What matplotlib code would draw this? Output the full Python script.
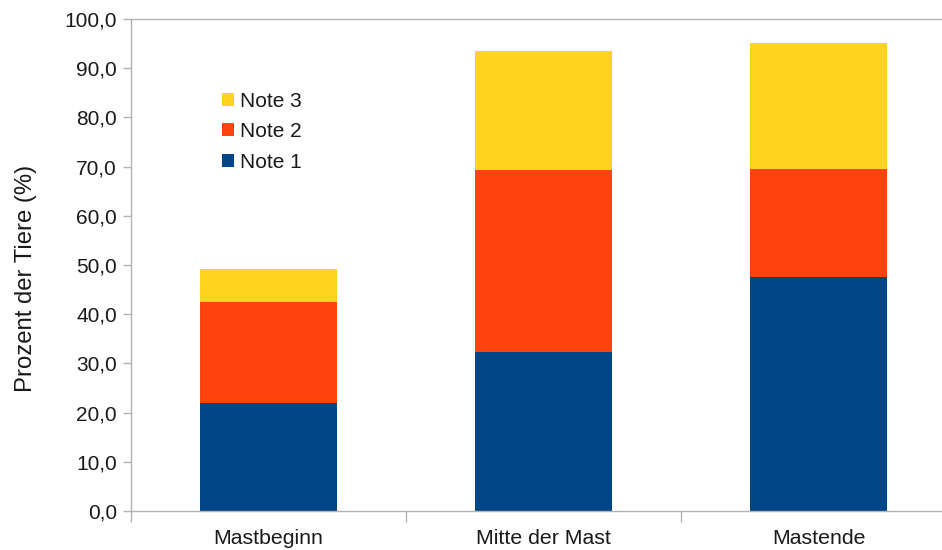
import matplotlib
matplotlib.use("Agg")
import matplotlib.pyplot as plt
from matplotlib.ticker import FuncFormatter, FixedLocator

plt.rcParams['font.family'] = ['Liberation Sans', 'DejaVu Sans']

categories = ['Mastbeginn', 'Mitte der Mast', 'Mastende']
note1 = [22.0, 32.3, 47.5]
note2 = [20.4, 37.1, 22.0]
note3 = [6.8, 24.0, 25.6]
series_names = ['Note 1', 'Note 2', 'Note 3']
colors = ['#004586', '#ff420e', '#ffd320']

fig = plt.figure(figsize=(9.42, 5.5), dpi=100)
ax = fig.add_axes([131 / 942, 39 / 550, 825 / 942, 492 / 550])

x = list(range(len(categories)))
bottom = [0.0] * len(categories)
bars = []
for vals, name, col in zip([note1, note2, note3], series_names, colors):
    b = ax.bar(x, vals, width=0.5, bottom=bottom, color=col, label=name)
    bars.append(b)
    bottom = [a + v for a, v in zip(bottom, vals)]

ax.set_xlim(-0.5, len(categories) - 0.5)
ax.set_ylim(0, 100)
ax.set_yticks(range(0, 101, 10))
ax.yaxis.set_major_formatter(FuncFormatter(lambda v, p: f'{v:.1f}'.replace('.', ',')))

ax.set_xticks(x)
ax.set_xticklabels(categories)
ax.xaxis.set_minor_locator(FixedLocator([i - 0.5 for i in range(len(categories) + 1)]))
ax.tick_params(axis='x', which='major', length=0, pad=13, labelsize=15.3, labelcolor='#1a1a1a')
ax.tick_params(axis='x', which='minor', length=8, color='#b3b3b3', width=1)
ax.tick_params(axis='y', length=6, color='#b3b3b3', width=1, pad=4, labelsize=15, labelcolor='#1a1a1a')

for side in ['left', 'bottom', 'top']:
    ax.spines[side].set_color('#b3b3b3')
    ax.spines[side].set_linewidth(1)
ax.spines['right'].set_visible(False)

ax.set_ylabel('Prozent der Tiere (%)', fontsize=17.2, color='#1a1a1a')
ax.yaxis.set_label_coords((37 - 131) / 825, (511 - 278) / 492)

handles = [bars[2], bars[1], bars[0]]
labels = ['Note 3', 'Note 2', 'Note 1']
fig.legend(handles, labels, loc='upper left', bbox_to_anchor=(203 / 942, 1 - 73 / 550),
           frameon=False, fontsize=15, handlelength=0.6, handleheight=0.6,
           handletextpad=0.3, labelspacing=0.55, labelcolor='#1a1a1a')

fig.savefig('out.png', dpi=100)
